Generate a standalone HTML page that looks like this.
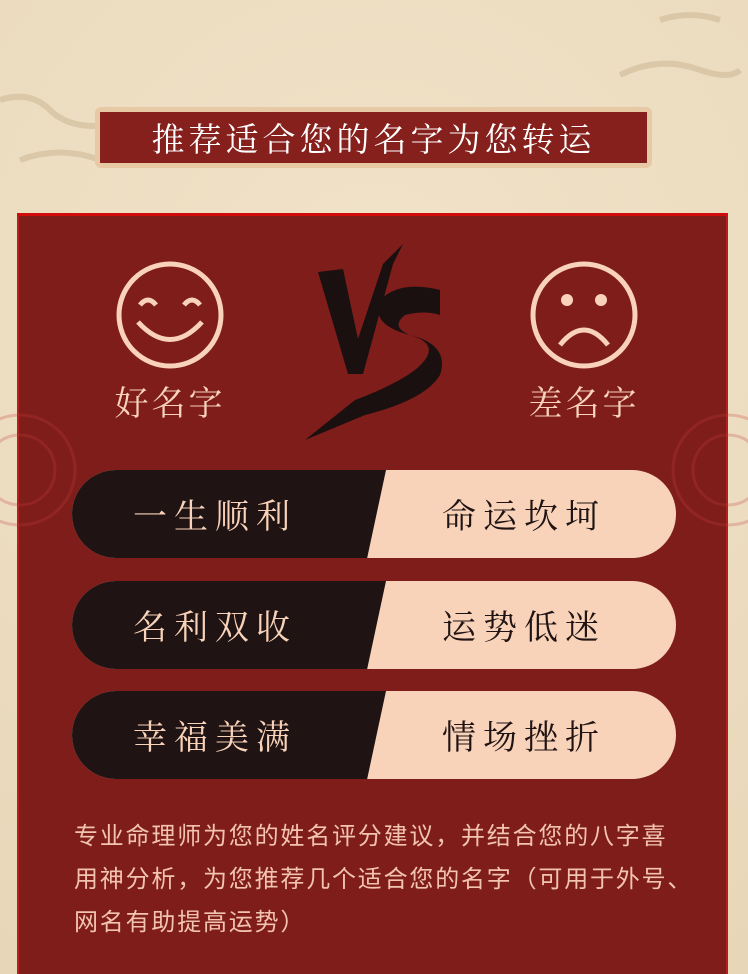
<!DOCTYPE html>
<html><head><meta charset="utf-8"><style>
body{margin:0;width:748px;height:974px;overflow:hidden;background:#ecdcc0;font-family:"Liberation Sans","Noto Sans CJK SC",sans-serif;position:relative}
.abs{position:absolute}
.pill{position:absolute;left:72px;width:604px;height:88px;border-radius:44px;overflow:hidden;background:#f9d3b9}
.pill .dark{position:absolute;left:0;top:0;height:88px;width:314px;background:#1f1313;clip-path:polygon(0 0,100% 0,94% 100%,0 100%)}
.pill span{position:absolute;top:0;line-height:88px;font-size:34px;letter-spacing:7px;font-family:"Noto Serif CJK SC",serif;white-space:nowrap}
.l{left:43px;width:200px;text-align:center;color:#f9d3b9}
.r{left:352px;width:200px;text-align:center;color:#1f1313}
</style></head><body>
<div class="abs" style="left:0;top:0;width:748px;height:974px;background:radial-gradient(circle at 50% 30%,#f1e3c9,#e8d6b8)"></div>
<svg class="abs" style="left:0;top:0" width="748" height="210">
<g fill="none" stroke="#d6c3a2" stroke-width="6" opacity="0.8"><path d="M620 75 q40-20 80-5 q30 10 40 0"/><path d="M660 20 q30-10 60 0"/><path d="M0 100 q30-10 50 10 q20 20 60 15"/><path d="M20 160 q40-15 80 0"/></g></svg>
<div class="abs" style="left:95px;top:107px;width:557px;height:61px;background:#e7c9a5;border-radius:6px"></div>
<div class="abs" style="left:99px;top:111px;width:549px;height:53px;background:#86201c;border:1px solid #e7c9a5;box-sizing:border-box;color:#fff;font-size:33px;text-align:center;line-height:51px;letter-spacing:4px;font-family:'Noto Serif CJK SC',serif">推荐适合您的名字为您转运</div>
<div class="abs" style="left:17px;top:213px;width:711px;height:761px;background:#7f1d1b;border-top:3px solid #d10a0a;border-left:2px solid #b5201c;border-right:2px solid #b5201c;box-sizing:border-box"></div>
<svg class="abs" style="left:0;top:0" width="748" height="974">
<g opacity="0.25" fill="none" stroke="#c4403a" stroke-width="3"><circle cx="20" cy="470" r="55"/><circle cx="20" cy="470" r="35"/><circle cx="728" cy="470" r="55"/><circle cx="728" cy="470" r="35"/></g>
<g fill="none" stroke="#f9d3b9" stroke-width="5"><circle cx="170" cy="315" r="51"/><path d="M140 305 q8-10 16 0M184 305 q8-10 16 0M138 322 q32 35 64 0"/></g>
<g fill="none" stroke="#f9d3b9" stroke-width="5"><circle cx="584" cy="315" r="51"/><path d="M560 345 q24-30 48 0"/></g>
<circle cx="567" cy="300" r="6" fill="#f9d3b9"/><circle cx="601" cy="300" r="6" fill="#f9d3b9"/>
<g fill="#1a1010"><path d="M318 272 l25-3 l15 70 l25-75 l20-20 l-10 20 l-30 110 l-15 0 z"/><path d="M440 290 q-40-10-60 10 q-10 25 30 35 q35 10 5 35 q-20 15-60 30 l-50 40 l60-25 q60-15 75-40 q10-30-30-40 q-20-8-5-20 q20-5 35 0z"/></g>
<text x="170" y="415" text-anchor="middle" fill="#f9d3b9" font-size="34" font-family="Noto Serif CJK SC,serif" letter-spacing="3">好名字</text>
<text x="584" y="415" text-anchor="middle" fill="#f9d3b9" font-size="34" font-family="Noto Serif CJK SC,serif" letter-spacing="3">差名字</text>
</svg>
<div class="pill" style="top:470px"><div class="dark"></div><span class="l">一生顺利</span><span class="r">命运坎坷</span></div>
<div class="pill" style="top:581px"><div class="dark"></div><span class="l">名利双收</span><span class="r">运势低迷</span></div>
<div class="pill" style="top:691px"><div class="dark"></div><span class="l">幸福美满</span><span class="r">情场挫折</span></div>
<div class="abs" style="left:74px;top:815px;width:640px;color:#f2c4ae;font-size:24px;line-height:43px;letter-spacing:1.8px;white-space:nowrap">专业命理师为您的姓名评分建议，并结合您的八字喜<br>用神分析，为您推荐几个适合您的名字（可用于外号、<br>网名有助提高运势）</div>
</body></html>
